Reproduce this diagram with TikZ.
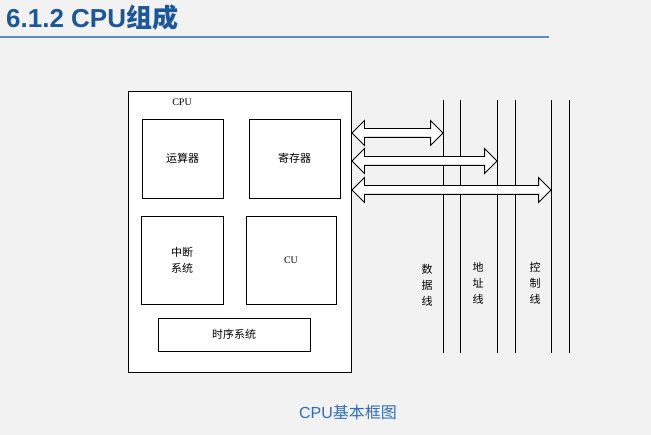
\documentclass[tikz,border=0pt]{standalone}
\usepackage{fontspec}
\setmainfont{Liberation Sans}
\newfontfamily\cjk{Noto Sans CJK SC}
\newfontfamily\smallserif{Liberation Serif}
\usetikzlibrary{shapes.arrows}
\definecolor{titleblue}{HTML}{1B5799}
\definecolor{ruleblue}{HTML}{5B8DC0}
\definecolor{capblue}{HTML}{2F6EB5}
\definecolor{pagegray}{HTML}{F2F2F2}
\begin{document}
\begin{tikzpicture}[
    x=1pt, y=-1pt,
    unit/.style={rectangle, draw, fill=white, line width=0.8pt, align=center, font=\cjk\fontsize{11}{16}\selectfont},
    busarrow/.style={double arrow, draw, fill=white, line width=0.8pt, inner sep=4pt, minimum width=24pt, double arrow head extend=8pt},
    busline/.style={line width=0.8pt},
    buslabel/.style={align=center, font=\cjk\fontsize{11}{16}\selectfont}
]
    % Background and title
    \fill [pagegray] (0,0) rectangle (651,435);
    \useasboundingbox (0,0) rectangle (651,435);
    \node [anchor=west, text=titleblue, font=\bfseries\fontsize{26}{28}\selectfont, inner sep=0pt] (title) at (6,18) {6.1.2 CPU{\cjk 组成}};
    \draw [ruleblue, line width=2pt] (0,37) -- (549,37);

    % CPU and its units
    \node [unit, minimum width=223pt, minimum height=281pt] (cpu) at (239.5,231.5) {};
    \node [font=\smallserif\fontsize{10}{11}\selectfont] (cpulabel) at (182,102) {CPU};
    \node [unit, minimum width=81pt, minimum height=79pt] (alu) at (182.5,158.5) {运算器};
    \node [unit, minimum width=91pt, minimum height=79pt] (reg) at (294.5,158.5) {寄存器};
    \node [unit, minimum width=82pt, minimum height=88pt] (irq) at (182,260) {中断\\系统};
    \node [unit, minimum width=90pt, minimum height=88pt, font=\smallserif\fontsize{10}{12}\selectfont] (cu) at (291,260) {CU};
    \node [unit, minimum width=152pt, minimum height=33pt] (clock) at (234,334.5) {时序系统};

    % Buses
    \coordinate (dataA) at (443,100);
    \coordinate (dataB) at (460,100);
    \coordinate (addrA) at (497,100);
    \coordinate (addrB) at (515,100);
    \coordinate (ctrlA) at (551,100);
    \coordinate (ctrlB) at (569,100);
    \foreach \b in {dataA,dataB,addrA,addrB,ctrlA,ctrlB}
        \draw [busline] (\b) -- ++(0,253);
    \node [buslabel] (datalabel) at (427,285) {数\\据\\线};
    \node [buslabel] (addrlabel) at (478,283) {地\\址\\线};
    \node [buslabel] (ctrllabel) at (535,283) {控\\制\\线};

    % Arrows between CPU and buses
    \node [busarrow, minimum height=91pt] (dataarrow) at (397.5,133) {};
    \node [busarrow, minimum height=145pt] (addrarrow) at (424.5,161) {};
    \node [busarrow, minimum height=199pt] (ctrlarrow) at (451.5,190) {};

    % Caption
    \node [text=capblue, font=\fontsize{16}{18}\selectfont] (caption) at (348,412) {CPU{\cjk 基本框图}};
\end{tikzpicture}
\end{document}
